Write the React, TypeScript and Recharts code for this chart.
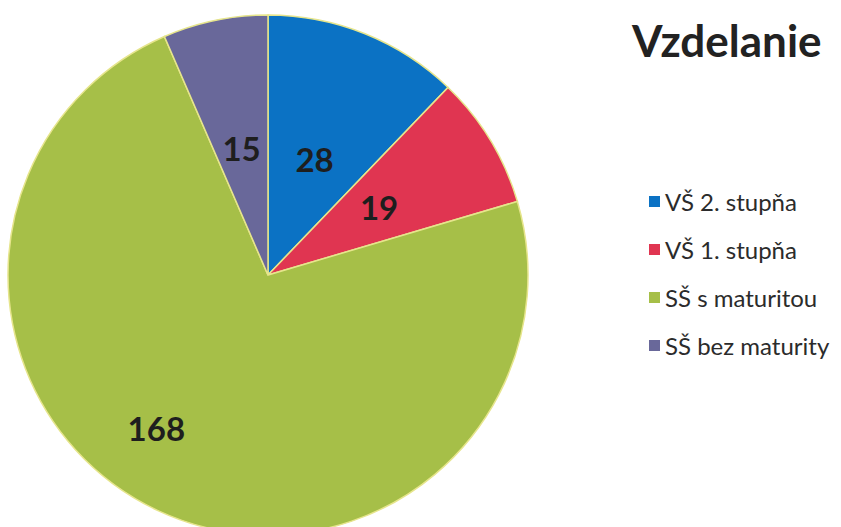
import { PieChart, Pie, Cell, Legend } from "recharts";

const categories = ["VŠ 2. stupňa", "VŠ 1. stupňa", "SŠ s maturitou", "SŠ bez maturity"];
const values = [28, 19, 168, 15];
const title = "Vzdelanie";

const colors = ["#0b72c4", "#e03551", "#a6bf48", "#69689a"];
// per-slice label distance as share of radius, and a small angle nudge (deg)
const labelPos = [
  { r: 0.48, shift: 0 },
  { r: 0.5, shift: 0 },
  { r: 0.73, shift: -11 },
  { r: 0.5, shift: 0 },
];

const data = categories.map((name, i) => ({ name, value: values[i] }));

const RAD = Math.PI / 180;

const renderLabel = (props: any) => {
  const { cx, cy, midAngle, outerRadius, index, value } = props;
  const p = labelPos[index];
  const a = (midAngle + p.shift) * RAD;
  const r = outerRadius * p.r;
  const x = cx + r * Math.cos(a);
  const y = cy - r * Math.sin(a);
  return (
    <text
      x={x}
      y={y}
      textAnchor="middle"
      dominantBaseline="central"
      fill="#1e1e1e"
      style={{ fontFamily: "Lato", fontWeight: 700, fontSize: 33 }}
    >
      {value}
    </text>
  );
};

const renderLegend = () => (
  <div style={{ fontFamily: "Lato", fontSize: 24, color: "#2b2b2b" }}>
    {data.map((d, i) => (
      <div key={d.name} style={{ display: "flex", alignItems: "center", height: 48 }}>
        <span
          style={{
            display: "inline-block",
            width: 11,
            height: 11,
            background: colors[i],
            marginRight: 5,
          }}
        />
        <span>{d.name}</span>
      </div>
    ))}
  </div>
);

export default function App() {
  return (
    <div style={{ position: "absolute", left: 0, top: 0, width: 841, height: 527, background: "#fff" }}>
      <PieChart width={841} height={527} margin={{ top: 0, right: 0, bottom: 0, left: 0 }}>
        <Pie
          data={data}
          dataKey="value"
          nameKey="name"
          cx={268}
          cy={275}
          outerRadius={260}
          startAngle={90}
          endAngle={-270}
          stroke="#e6e58c"
          strokeWidth={1.5}
          label={renderLabel}
          labelLine={false}
          isAnimationActive={false}
        >
          {data.map((_, i) => (
            <Cell key={i} fill={colors[i]} />
          ))}
        </Pie>
        <Legend
          layout="vertical"
          content={renderLegend}
          wrapperStyle={{ position: "absolute", left: 649, top: 177, width: 200 }}
        />
      </PieChart>
      <div
        style={{
          position: "absolute",
          left: 632,
          top: 10,
          fontFamily: "Lato",
          fontWeight: 700,
          fontSize: 44,
          color: "#222",
          lineHeight: "60px",
        }}
      >
        {title}
      </div>
    </div>
  );
}
